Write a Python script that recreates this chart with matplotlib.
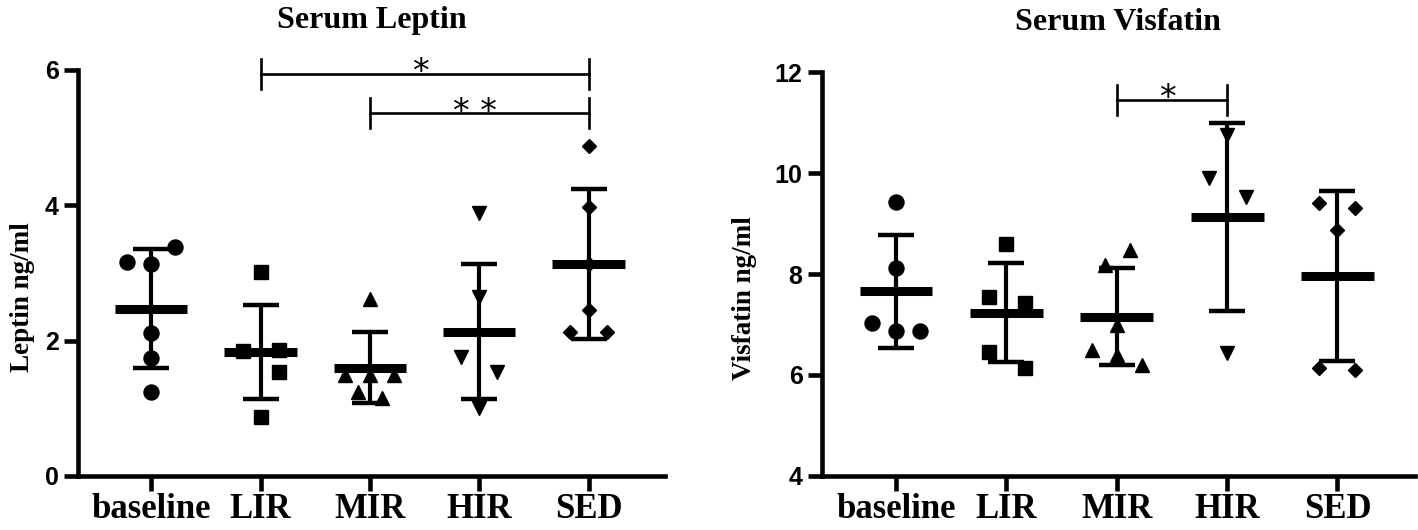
import matplotlib
matplotlib.use("Agg")
import matplotlib.pyplot as plt
import numpy as np

groups = ["baseline", "LIR", "MIR", "HIR", "SED"]

# Serum leptin (ng/ml), one value per animal
leptin = [
    [3.16, 3.13, 3.38, 2.11, 1.74, 1.24],
    [3.01, 1.85, 1.86, 1.54, 0.87],
    [2.61, 1.49, 1.49, 1.49, 1.24, 1.15],
    [3.88, 2.65, 1.76, 1.54, 1.00],
    [4.87, 3.97, 3.13, 2.45, 2.12, 2.12],
]
leptin_mean = [2.47, 1.83, 1.60, 2.13, 3.13]
leptin_sd = [0.88, 0.70, 0.52, 1.00, 1.11]
# (group a, group b, bar height, label)
leptin_sig = [(1, 4, 5.94, "*"), (2, 4, 5.36, "**")]

# Serum visfatin (ng/ml)
visfatin = [
    [9.43, 8.12, 7.03, 6.87, 6.87],
    [8.59, 7.54, 7.42, 6.46, 6.14],
    [8.48, 8.18, 6.99, 6.50, 6.40, 6.20],
    [10.75, 9.90, 9.52, 6.44],
    [9.41, 9.31, 8.87, 6.14, 6.10],
]
visfatin_mean = [7.66, 7.23, 7.15, 9.13, 7.96]
visfatin_sd = [1.12, 0.98, 0.96, 1.87, 1.68]
visfatin_sig = [(2, 3, 11.45, "*")]

# horizontal scatter of the dots (layout only)
leptin_jit = [
    [-0.22, 0, 0.22, 0, 0, 0],
    [0, -0.16, 0.17, 0.17, 0],
    [0, -0.23, 0, 0.22, -0.11, 0.11],
    [0, 0, -0.17, 0.16, 0],
    [0, 0, 0, 0, -0.17, 0.17],
]
visfatin_jit = [
    [0, 0, -0.22, 0, 0.22],
    [0, -0.16, 0.17, -0.16, 0.17],
    [0.12, -0.11, 0, -0.22, 0, 0.23],
    [0, -0.16, 0.17, 0],
    [-0.17, 0.16, 0, -0.17, 0.16],
]

markers = ["o", "s", "^", "v", "D"]
msizes = [10.8, 10, 10.5, 10.5, 7.5]

serif = "Liberation Serif"
sans = "Liberation Sans"


def panel(ax, vals, jit, means, sds, sigs, ylim, yticks, title, ylabel, tick_h):
    x = np.arange(len(groups))
    for i in range(len(groups)):
        xs = i + np.array(jit[i])
        ax.plot(xs, vals[i], linestyle="none", marker=markers[i],
                ms=msizes[i], color="black", zorder=3)
    ax.errorbar(x, means, yerr=sds, fmt="none", ecolor="black",
                elinewidth=3, capsize=13.3, capthick=3.2, zorder=4)
    ax.hlines(means, x - 0.33, x + 0.33, color="black", lw=6.5, zorder=5)

    # significance brackets
    for a, b, h, lab in sigs:
        ax.plot([a, b], [h, h], color="black", lw=1.9, clip_on=False)
        ax.plot([a, a], [h - tick_h, h + tick_h], color="black", lw=1.9, clip_on=False)
        ax.plot([b, b], [h - tick_h, h + tick_h], color="black", lw=1.9, clip_on=False)
        ax.annotate(" ".join(lab), xy=((a + b) / 2, h), xytext=(-3, -6),
                    textcoords="offset points", ha="center", va="baseline",
                    fontsize=24, fontfamily="DejaVu Sans", annotation_clip=False)

    ax.set_xlim(-0.67, 4.70)
    ax.set_ylim(*ylim)
    ax.set_yticks(yticks)
    ax.set_xticks(x)
    ax.set_xticklabels(groups, fontfamily=serif, fontweight="bold", fontsize=25)
    for lab in ax.get_yticklabels():
        lab.set_fontfamily(sans)
        lab.set_fontweight("bold")
        lab.set_fontsize(18)
    ax.spines["top"].set_visible(False)
    ax.spines["right"].set_visible(False)
    for s in ["left", "bottom"]:
        ax.spines[s].set_linewidth(3.3)
    ax.tick_params(axis="y", length=10, width=3.3, pad=4)
    ax.tick_params(axis="x", length=11, width=3.3, pad=1)
    ax.set_title(title, fontfamily=serif, fontweight="bold", fontsize=23, pad=30)
    ax.set_ylabel(ylabel, fontfamily=serif, fontweight="bold", fontsize=19.5)


fig = plt.figure(figsize=(14.18, 5.3), dpi=100)
ax1 = fig.add_axes([0.055, 0.102, 0.414, 0.766])
ax2 = fig.add_axes([0.5797, 0.102, 0.418, 0.762])

panel(ax1, leptin, leptin_jit, leptin_mean, leptin_sd, leptin_sig,
      (0, 6), [0, 2, 4, 6], "Serum Leptin", "Leptin ng/ml", 0.22)
panel(ax2, visfatin, visfatin_jit, visfatin_mean, visfatin_sd, visfatin_sig,
      (4, 12), [4, 6, 8, 10, 12], "Serum Visfatin", "Visfatin ng/ml", 0.30)

ax1.yaxis.set_label_coords(-0.073, 0.44)
ax2.yaxis.set_label_coords(-0.11, 0.44)

fig.savefig("out.png", dpi=100)
